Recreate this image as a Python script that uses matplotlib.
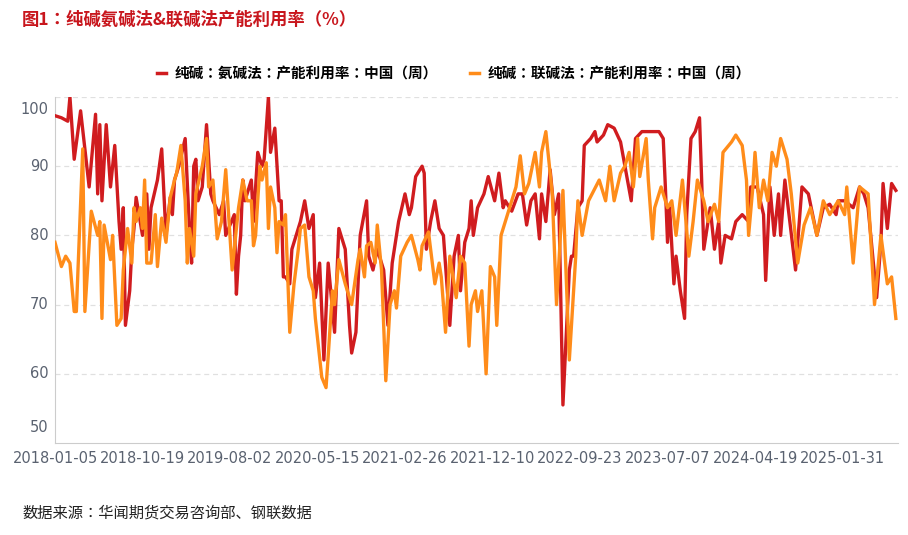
import numpy as np
import pandas as pd
import matplotlib
matplotlib.use("Agg")
import matplotlib.pyplot as plt
from matplotlib.lines import Line2D

plt.rcParams["font.family"] = ["Noto Sans CJK JP", "Noto Sans CJK SC", "DejaVu Sans"]

start_date = pd.Timestamp("2018-01-05")

# 氨碱法: (week index from 2018-01-05, value)
ammonia_weeks = [0, 3, 6, 7, 9, 12, 16, 19, 20, 21, 22, 24, 26, 28, 30, 31, 32, 33, 35, 36, 37, 38, 41, 43, 44, 45,
                 48, 50, 52, 54, 55, 56, 58, 61, 63, 64, 65, 66, 67, 69, 71, 73, 74, 77, 79, 80, 84, 85, 86, 87, 88,
                 89, 92, 93, 95, 97, 98, 100, 101, 103, 105, 106, 107, 108, 110, 111, 115, 117, 119, 121, 122, 124,
                 126, 128, 131, 133, 136, 138, 139, 141, 143, 146, 147, 149, 151, 153, 154, 156, 158, 161, 164, 166,
                 167, 169, 172, 173, 174, 176, 178, 180, 182, 185, 187, 189, 190, 192, 194, 195, 196, 198, 201, 203,
                 206, 208, 210, 211, 214, 217, 219, 221, 223, 225, 227, 228, 230, 232, 234, 236, 238, 241, 242, 243,
                 245, 247, 248, 251, 253, 254, 257, 259, 262, 265, 270, 272, 275, 283, 285, 286, 287, 288, 290, 291,
                 293, 295, 296, 298, 300, 302, 303, 304, 307, 309, 311, 312, 314, 317, 319, 322, 325, 326, 329, 332,
                 333, 335, 337, 339, 340, 342, 347, 350, 353, 355, 357, 360, 363, 366, 367, 370, 374, 377, 379, 381,
                 385, 387, 388, 390, 392, 394]
ammonia_vals = [97.3, 97, 96.5, 100, 91, 98, 87, 97.5, 86, 96, 85, 96, 87, 93, 82, 78, 84, 67, 72, 78, 81, 85.5, 80, 86,
                78, 84, 88, 92.5, 80, 85.5, 83, 88, 90, 94, 81, 76, 90, 91, 85, 87, 96, 86, 85, 83, 85, 80, 83, 71.5,
                77, 80, 88, 85, 88, 82, 92, 90, 91, 100, 92, 95.5, 85, 85, 74, 74, 73, 78, 82, 85, 81, 83, 71, 76, 62,
                76, 66, 81, 78, 67, 63, 66, 80, 85, 77, 75, 78, 76, 75, 67, 76, 82, 86, 83, 84, 88.5, 90, 89, 78, 82,
                85, 81, 80, 67, 77, 80, 72, 79, 81, 85, 80, 84, 86, 88.5, 85, 89, 84, 85, 83.5, 86, 86, 81.5, 85, 86,
                79.5, 86, 82, 89.5, 83, 86, 55.5, 75, 77, 77, 84, 85, 93, 94, 95, 93.5, 94.5, 96, 95.5, 93.5, 85, 94,
                95, 95, 94, 87, 79, 84, 73, 77, 72, 68, 83, 94, 95, 97, 88, 78, 84, 78, 82, 76, 80, 79.5, 82, 83, 82,
                87, 87, 83, 73.5, 87, 80, 86, 80, 88, 75, 87, 86, 83, 80, 84, 84.5, 83, 85, 85, 84, 87, 86, 84, 71,
                79, 87.5, 81, 87.5, 86.5]

# 联碱法
joint_weeks = [0, 3, 5, 7, 9, 10, 13, 14, 17, 20, 21, 22, 23, 26, 27, 29, 31, 32, 34, 36, 37, 38, 40, 41, 42, 43, 45,
               47, 48, 50, 52, 54, 56, 57, 59, 61, 62, 63, 65, 66, 69, 71, 72, 74, 76, 78, 80, 83, 86, 88, 90, 92, 93,
               94, 96, 97, 99, 100, 101, 103, 104, 105, 107, 108, 110, 112, 114, 115, 117, 119, 121, 122, 125, 127,
               128, 130, 131, 133, 136, 138, 139, 142, 143, 145, 146, 148, 150, 151, 153, 155, 157, 159, 160, 162, 165,
               167, 170, 171, 172, 175, 178, 180, 181, 183, 185, 188, 190, 192, 194, 195, 197, 198, 200, 202, 204,
               206, 207, 209, 211, 214, 216, 218, 220, 222, 225, 227, 228, 230, 233, 235, 238, 241, 244, 245, 247,
               250, 255, 258, 260, 262, 265, 267, 269, 271, 273, 274, 277, 278, 280, 281, 284, 287, 289, 291, 294,
               297, 299, 301, 304, 306, 309, 311, 313, 317, 319, 322, 324, 325, 327, 328, 330, 332, 334, 336, 338,
               340, 343, 345, 348, 351, 354, 357, 360, 363, 367, 370, 371, 374, 377, 381, 384, 387, 390, 392, 394]
joint_vals = [79, 75.5, 77, 76, 69, 69, 92.5, 69, 83.5, 80, 82, 68, 81.5, 76.5, 80, 67, 68, 75, 81, 76, 84, 82, 84, 81,
              88, 76, 76, 83, 75.5, 82.5, 79, 85.5, 88, 89, 93, 85, 76, 81, 77, 86, 90, 94, 87, 88, 79.5, 82, 89.5,
              75, 84, 88, 85, 85, 78.5, 80, 90, 88, 90.5, 81, 87, 84, 77.5, 82, 81.5, 83, 66, 73, 78, 81, 81.5, 74,
              72, 68, 59.5, 58, 62.5, 72, 70, 76.5, 73, 71, 70, 76.5, 78, 74, 78.5, 79, 76, 81.5, 75, 59, 70, 72,
              69.5, 77, 79, 80, 76.5, 75, 78.5, 80.5, 73, 76, 74, 66, 77, 71, 77, 76, 64, 70, 72, 69, 72, 60, 75.5,
              74, 67, 80, 82, 85, 87, 91.5, 86, 87.5, 92, 87, 92, 95, 86, 70, 86.5, 62, 77, 85, 80, 85, 88, 85, 90,
              85, 89, 90, 92, 87, 94, 88.5, 94, 88, 79.5, 84, 87, 84, 85, 80, 88, 77, 82, 88, 85, 82, 84.5, 82, 92,
              93.5, 94.5, 93, 88, 80, 87, 92, 84, 88, 85, 92, 90, 94, 91, 86, 76, 81.5, 84, 80, 85, 83, 85, 83, 87,
              76, 87, 86, 70, 80, 73, 74, 68]

tick_weeks = list(range(0, 370, 41))
tick_labels = [(start_date + pd.Timedelta(weeks=w)).strftime("%Y-%m-%d") for w in tick_weeks]

red = "#D01C1F"
orange = "#FF8C1A"
grey = "#5A6270"

fig = plt.figure(figsize=(9.08, 5.35), dpi=100)
ax = fig.add_axes([55 / 908, 1 - 443 / 535, 843 / 908, 346 / 535])

ax.plot(ammonia_weeks, ammonia_vals, color=red, lw=2.4, solid_joinstyle="round", zorder=3)
ax.plot(joint_weeks, joint_vals, color=orange, lw=2.4, solid_joinstyle="round", zorder=4)

ax.set_xlim(0, 395)
ax.set_ylim(50, 100)
ax.set_yticks([60, 70, 80, 90, 100])
ax.set_yticklabels([])
for v in [60, 70, 80, 90]:
    ax.text(-0.008, v, str(v), transform=ax.get_yaxis_transform(), ha="right", va="center",
            fontsize=10.5, color=grey, fontfamily="DejaVu Sans")
ax.text(-0.008, 98.2, "100", transform=ax.get_yaxis_transform(), ha="right", va="center",
        fontsize=10.5, color=grey, fontfamily="DejaVu Sans")
ax.text(-0.008, 52.2, "50", transform=ax.get_yaxis_transform(), ha="right", va="center",
        fontsize=10.5, color=grey, fontfamily="DejaVu Sans")
ax.grid(axis="y", color="#E0E0E0", ls=(0, (4, 3)), lw=0.9)
ax.tick_params(axis="y", length=0)
ax.set_xticks(tick_weeks)
ax.set_xticklabels(tick_labels, fontsize=10.5, color=grey, fontfamily="DejaVu Sans")
ax.tick_params(axis="x", length=0, pad=6)
for s in ["top", "right"]:
    ax.spines[s].set_visible(False)
ax.spines["left"].set_color("#CCCCCC")
ax.spines["bottom"].set_color("#CCCCCC")
ax.set_axisbelow(True)

fig.text(22 / 908, 1 - 20 / 535, "图1：纯碱氨碱法&联碱法产能利用率（%）", color="#C8161D",
         fontsize=12.5, fontweight="bold", va="center")
handles = [Line2D([], [], color=red, lw=2.5), Line2D([], [], color=orange, lw=2.5)]
fig.legend(handles, ["纯碱：氨碱法：产能利用率：中国（周）", "纯碱：联碱法：产能利用率：中国（周）"],
           loc="center", bbox_to_anchor=(0.5, 1 - 73 / 535), ncol=2, frameon=False,
           handlelength=0.6, columnspacing=2.2, handletextpad=0.6, prop={"size": 10.5, "weight": "bold"})
fig.text(22 / 908, 1 - 513 / 535, "数据来源：华闻期货交易咨询部、钢联数据", fontsize=11, color="#222222", va="center")

fig.savefig("out.png", dpi=100, facecolor="white")
